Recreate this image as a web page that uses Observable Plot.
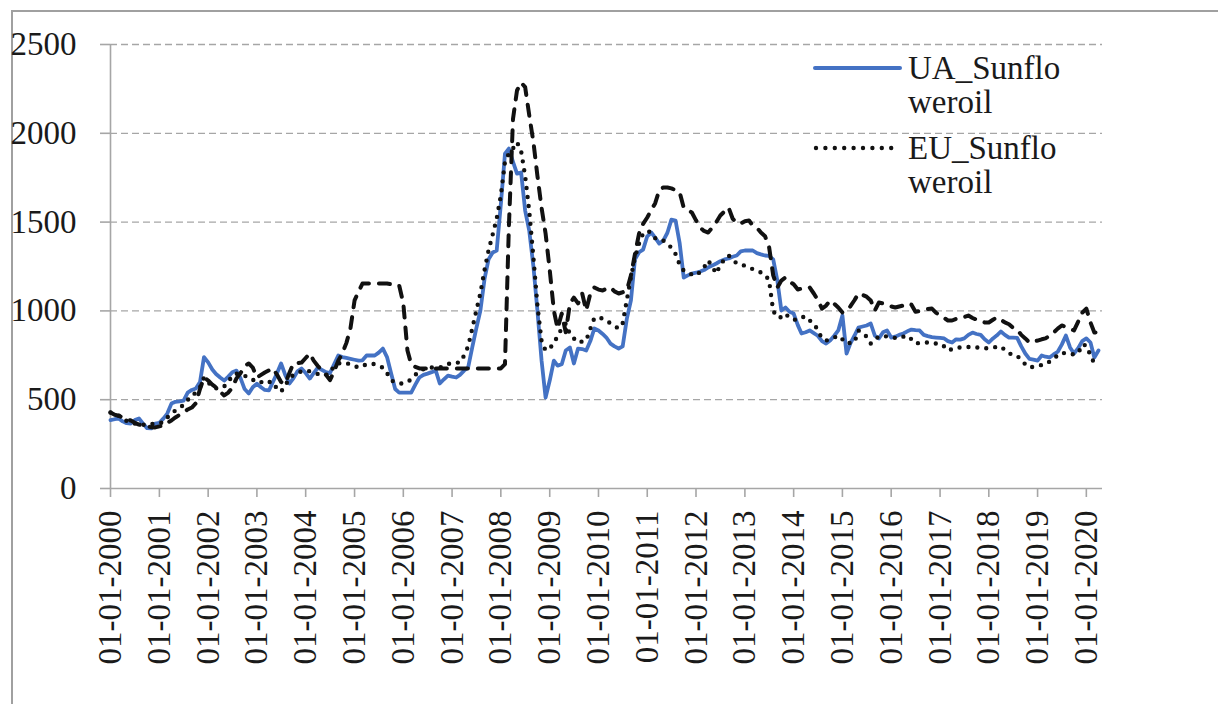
<!DOCTYPE html>
<html>
<head>
<meta charset="utf-8">
<script src="https://cdn.jsdelivr.net/npm/d3@7"></script>
<script src="https://cdn.jsdelivr.net/npm/@observablehq/plot@0.6"></script>
<style>
  html, body { margin: 0; padding: 0; background: #fff; }
  #wrap { position: relative; width: 1218px; height: 704px; overflow: hidden; font-family: 'Liberation Serif', serif; }
  #frame { position: absolute; left: 11px; top: 10px; width: 1300px; height: 800px; border-top: 2px solid #a0a0a0; border-left: 2px solid #a0a0a0; }
  #chart { position: absolute; left: 0; top: 0; }
  #chart svg text { font-family: 'Liberation Serif', serif; }
  .leg { position: absolute; font-family: 'Liberation Serif', serif; font-size: 33px; line-height: 34px; color: #1a1a1a; }
  .legsvg { position: absolute; }
</style>
</head>
<body>
<div id="wrap">
  <div id="frame"></div>
  <div id="chart"></div>
  <svg class="legsvg" style="left:810px; top:60px;" width="100" height="100">
    <line x1="5" y1="8" x2="90" y2="8" stroke="#4472C4" stroke-width="4" stroke-linecap="round"/>
    <line x1="6" y1="88" x2="90" y2="88" stroke="#111" stroke-width="4.4" stroke-linecap="round" stroke-dasharray="0 9.4"/>
  </svg>
  <div class="leg" style="left:908px; top:51px;">UA_Sunflo<br>weroil</div>
  <div class="leg" style="left:908px; top:131px;">EU_Sunflo<br>weroil</div>
</div>
<script>
// Monthly values, Jan 2000 – Apr 2020
const uaSunflowerOil = [
  385, 390, 394, 378, 368, 366, 385, 394, 365, 340, 338, 366,
  370, 395, 422, 478, 488, 490, 495, 540, 555, 563, 600, 740,
  710, 670, 645, 625, 608, 630, 655, 664, 620, 560, 535, 570,
  590, 570, 555, 552, 600, 650, 704, 640, 591, 620, 660, 676,
  650, 619, 650, 681, 668, 655, 650, 700, 749, 740, 735, 730,
  725, 720, 722, 749, 749, 749, 765, 788, 740, 650, 560, 540,
  540, 540, 540, 585, 625, 640, 647, 655, 664, 591, 615, 636,
  630, 625, 640, 664, 681, 794, 900, 1002, 1180, 1290, 1329, 1340,
  1600, 1886, 1914, 1840, 1773, 1779, 1565, 1450, 1250, 1000, 720, 512,
  608, 720, 692, 700, 777, 794, 704, 788, 785, 777, 830, 901,
  890, 870, 850, 816, 800, 788, 800, 955, 1060, 1290, 1330, 1345,
  1420, 1441, 1413, 1379, 1396, 1440, 1514, 1509, 1380, 1188, 1200, 1210,
  1215, 1222, 1230, 1245, 1255, 1267, 1280, 1290, 1295, 1305, 1312, 1335,
  1340, 1340, 1340, 1325, 1318, 1312, 1310, 1290, 1171, 1002, 1019, 995,
  985, 920, 873, 880, 890, 875, 860, 830, 816, 833, 860, 890,
  974, 760, 816, 860, 906, 912, 918, 929, 860, 845, 880, 890,
  850, 855, 865, 873, 885, 895, 892, 890, 865, 858, 852, 850,
  848, 845, 830, 822, 840, 838, 845, 865, 878, 870, 865, 840,
  822, 845, 861, 884, 865, 850, 850, 848, 800, 760, 730, 726,
  720, 749, 742, 738, 755, 770, 810, 861, 794, 760, 790, 830,
  845, 822, 738, 777
];
const euSunflowerOil = [
  428, 420, 411, 395, 380, 370, 366, 366, 360, 355, 362, 366,
  366, 375, 400, 420, 440, 455, 470, 500, 512, 545, 569, 625,
  600, 569, 565, 563, 575, 600, 636, 647, 640, 636, 620, 610,
  615, 600, 590, 600, 600, 560, 545, 580, 620, 640, 650, 660,
  665, 660, 650, 645, 640, 640, 650, 690, 704, 710, 705, 700,
  690, 681, 690, 700, 704, 700, 690, 681, 650, 610, 597, 592,
  591, 600, 615, 640, 664, 672, 681, 681, 681, 681, 690, 700,
  709, 709, 709, 749, 800, 900, 1000, 1100, 1230, 1340, 1430, 1520,
  1650, 1840, 1886, 1915, 1950, 1900, 1760, 1560, 1300, 1030, 830, 777,
  790, 816, 860, 900, 929, 870, 845, 822, 828, 833, 900, 960,
  963, 957, 945, 930, 915, 901, 930, 1060, 1190, 1300, 1380, 1436,
  1450, 1440, 1410, 1396, 1396, 1380, 1355, 1320, 1260, 1227, 1216, 1205,
  1199, 1220, 1245, 1284, 1250, 1210, 1260, 1290, 1312, 1290, 1267, 1260,
  1255, 1245, 1235, 1227, 1216, 1205, 1171, 1000, 963, 965, 985, 960,
  951, 950, 963, 970, 946, 930, 890, 845, 833, 840, 850, 861,
  840, 816, 820, 822, 890, 875, 855, 816, 840, 855, 861, 855,
  850, 848, 845, 855, 861, 840, 816, 820, 822, 822, 822, 816,
  816, 800, 777, 785, 794, 794, 794, 797, 800, 795, 790, 788,
  792, 794, 797, 800, 780, 760, 755, 749, 720, 700, 681, 686,
  692, 695, 698, 715, 732, 750, 765, 760, 754, 757, 760, 811,
  805, 749, 704, 715
];
const thirdSeries = [
  428, 415, 410, 400, 390, 383, 370, 360, 355, 350, 345, 344,
  350, 355, 370, 383, 400, 415, 428, 445, 456, 480, 560, 625,
  608, 585, 569, 545, 524, 540, 569, 620, 650, 690, 704, 681,
  625, 640, 653, 665, 676, 640, 600, 591, 650, 704, 706, 709,
  735, 760, 720, 690, 664, 640, 610, 660, 720, 760, 820, 900,
  1059, 1110, 1154, 1154, 1154, 1154, 1154, 1154, 1154, 1150, 1148, 1143,
  1042, 777, 700, 685, 676, 676, 676, 676, 676, 676, 676, 676,
  676, 676, 676, 676, 676, 676, 676, 676, 676, 676, 676, 676,
  676, 700, 1469, 2080, 2241, 2286, 2260, 2100, 1950, 1760, 1580, 1436,
  1230, 1002, 900, 985, 880, 1040, 1075, 1042, 1098, 1002, 1098, 1132,
  1120, 1115, 1125, 1132, 1110, 1098, 1105, 1115, 1200, 1320, 1436, 1490,
  1526, 1570, 1605, 1680, 1695, 1695, 1690, 1680, 1667, 1582, 1570, 1554,
  1510, 1469, 1450, 1441, 1469, 1500, 1537, 1560, 1582, 1520, 1495, 1492,
  1505, 1509, 1480, 1469, 1441, 1420, 1360, 1200, 1132, 1171, 1188, 1165,
  1150, 1120, 1126, 1132, 1132, 1098, 1060, 1013, 1030, 1059, 1040, 1019,
  991, 1005, 1025, 1060, 1098, 1090, 1080, 1059, 1002, 1047, 1042, 1035,
  1025, 1019, 1025, 1030, 1042, 1035, 995, 1000, 1008, 1010, 1013, 990,
  975, 960, 946, 946, 955, 957, 965, 974, 960, 951, 945, 935,
  935, 950, 963, 950, 935, 925, 905, 895, 865, 845, 822, 828,
  833, 840, 845, 860, 878, 900, 918, 910, 900, 890, 940, 990,
  1013, 935, 878, 880
];
const tickYears = d3.range(2000, 2021);
const yTicks = [0, 500, 1000, 1500, 2000, 2500];
const gridValues = [500, 1000, 1500, 2000, 2500];

const monthDate = i => new Date(Date.UTC(2000 + Math.floor(i / 12), i % 12, 1));
const toRows = arr => arr.map((v, i) => ({date: monthDate(i), value: v}));
const uaRows = toRows(uaSunflowerOil);
const euRows = toRows(euSunflowerOil);
const thirdRows = toRows(thirdSeries);
const tickDates = tickYears.map(y => new Date(Date.UTC(y, 0, 1)));
const x0 = new Date(Date.UTC(2000, 0, 1));
const x1 = new Date(Date.UTC(2020, 4, 1));
const axisGray = "#a6a6a6";
const textCol = "#1a1a1a";
const serif = "'Liberation Serif', serif";

const chart = Plot.plot({
  width: 1218,
  height: 704,
  marginLeft: 110,
  marginRight: 116,
  marginTop: 44,
  marginBottom: 216,
  x: {type: "utc", domain: [x0, x1]},
  y: {domain: [0, 2500]},
  style: {fontFamily: serif, background: "transparent", overflow: "visible"},
  marks: [
    Plot.ruleY(gridValues, {stroke: axisGray, strokeWidth: 1.3, strokeDasharray: "7 4"}),
    Plot.ruleY([0], {stroke: axisGray, strokeWidth: 1.6}),
    Plot.ruleX([x0], {y1: 0, y2: 2500, stroke: axisGray, strokeWidth: 1.6}),
    Plot.axisY({ticks: yTicks, tickSize: 10, stroke: axisGray, strokeWidth: 1.6, tickFormat: () => "", label: null}),
    Plot.axisY({ticks: yTicks, tickSize: 0, tickPadding: 34, fontSize: 33, fontFamily: serif, fill: textCol, label: null,
      tickFormat: d => String(d)}),
    Plot.axisX({ticks: tickDates, tickSize: 9, stroke: axisGray, strokeWidth: 1.6, tickFormat: () => "", label: null}),
    Plot.axisX({ticks: tickDates, tickSize: 0, tickPadding: 22, tickRotate: -90, fontSize: 33, fontFamily: serif, fill: textCol, label: null,
      tickFormat: d => "01-01-" + d.getUTCFullYear()}),
    Plot.line(uaRows, {x: "date", y: "value", stroke: "#4472C4", strokeWidth: 3.8, strokeLinejoin: "round"}),
    Plot.line(euRows, {x: "date", y: "value", stroke: "#111", strokeWidth: 4.4, strokeLinecap: "round", strokeDasharray: "0 9"}),
    Plot.line(thirdRows, {x: "date", y: "value", stroke: "#111", strokeWidth: 4, strokeLinecap: "round", strokeDasharray: "11 10"})
  ]
});
document.getElementById("chart").appendChild(chart);
</script>
</body>
</html>
